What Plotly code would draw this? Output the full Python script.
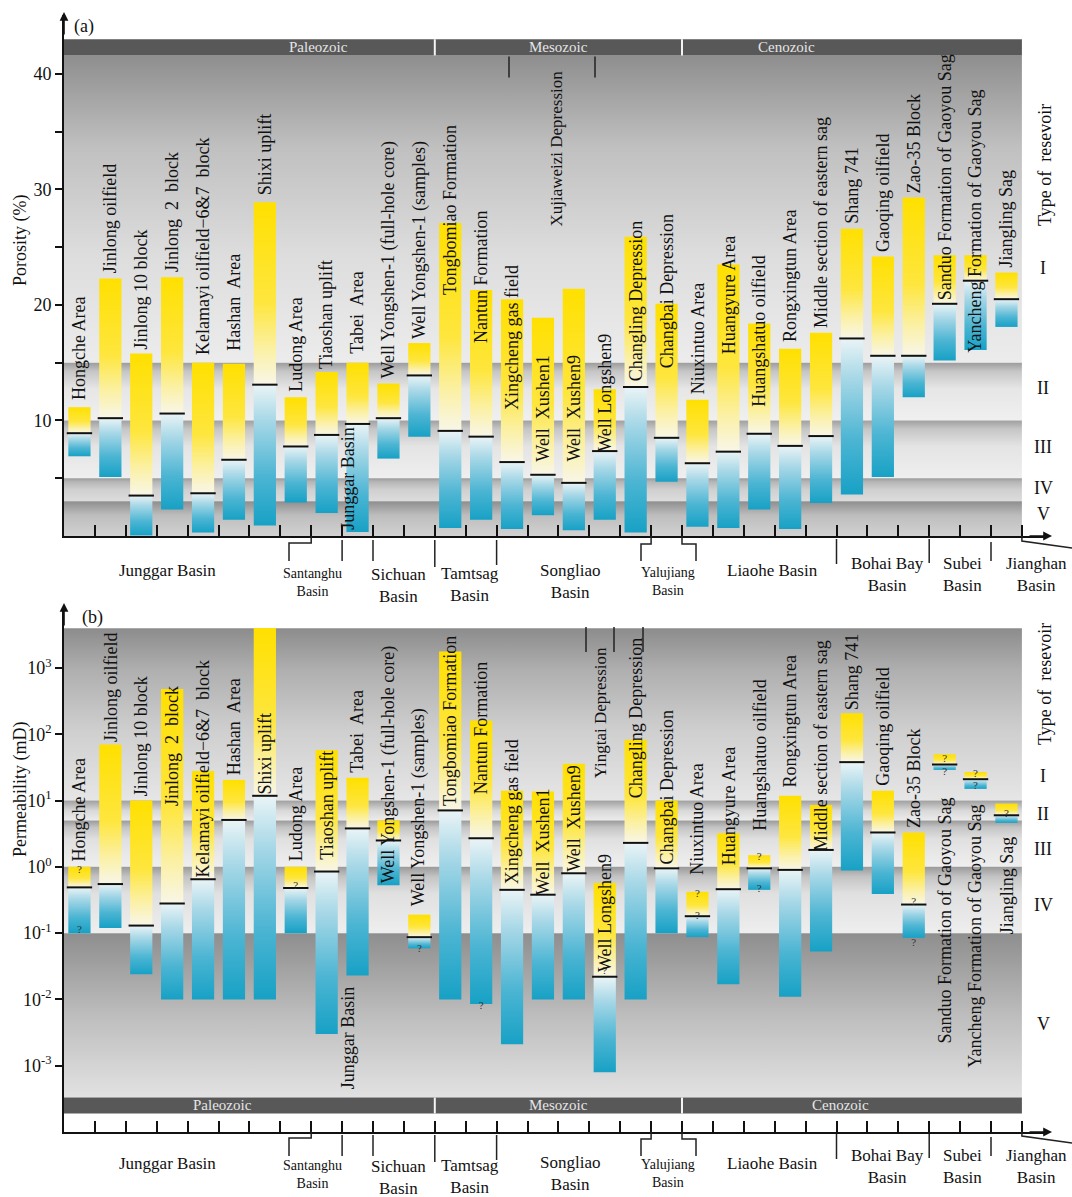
import plotly.graph_objects as go

W, H = 1072, 1197
SERIF = "Liberation Serif, Times New Roman, serif"

# ---------------- data ----------------
sites = ["Hongche Area", "Jinlong oilfield", "Jinlong 10 block", "Jinlong\u00a0 2\u00a0 block",
         "Kelamayi oilfield\u22126&amp;7\u00a0 block", "Hashan\u00a0 Area", "Shixi uplift", "Ludong Area",
         "Tiaoshan uplift", "Tabei\u00a0 Area", "Well Yongshen-1 (full-hole core)",
         "Well Yongshen-1 (samples)", "Tongbomiao Formation", "Nantun Formation",
         "Xingcheng gas field", "Well\u00a0 Xushen1", "Well\u00a0 Xushen9", "Well Longshen9",
         "Changling Depression", "Changbai Depression", "Niuxintuo Area", "Huangyure Area",
         "Huangshatuo oilfield", "Rongxingtun Area", "Middle section of eastern sag", "Shang 741",
         "Gaoqing oilfield", "Zao-35 Block", "Sanduo Formation of Gaoyou Sag",
         "Yancheng Formation of Gaoyou Sag", "Jiangling Sag"]

# porosity (%) : max / mean / min
por_max = [11.15, 22.3, 15.8, 22.4, 15.0, 14.9, 28.9, 12.0, 14.2, 15.0, 13.2, 16.7, 27.1, 21.3, 20.5,
           18.9, 21.4, 12.7, 25.9, 20.1, 11.8, 23.5, 18.4, 16.2, 17.6, 26.6, 24.2, 29.3, 24.3, 24.3, 22.8]
por_mean = [8.9, 10.2, 3.5, 10.6, 3.7, 6.6, 13.1, 7.75, 8.75, 9.7, 10.2, 13.9, 9.1, 8.6, 6.4,
            5.3, 4.6, 7.35, 12.9, 8.5, 6.3, 7.3, 8.85, 7.8, 8.65, 17.1, 15.6, 15.6, 20.1, 22.1, 20.5]
por_min = [6.9, 5.1, 0.05, 2.3, 0.3, 1.4, 0.9, 2.9, 2.0, 0.35, 6.7, 8.6, 0.7, 1.4, 0.6,
           1.8, 0.5, 1.4, 0.3, 4.7, 0.8, 0.7, 2.3, 0.6, 2.85, 3.6, 5.1, 12.0, 15.2, 16.1, 18.1]

# permeability (mD) : max / mean / min
perm_max = [1.0, 70, 10, 480, 28, 20.5, 4000, 1.0, 58, 22, 5.0, 0.19, 1780, 161, 14,
            13.7, 36, 0.57, 83, 10, 0.42, 3.2, 1.5, 11.8, 8.6, 208, 14, 3.3, 50, 27, 9.0]
perm_mean = [0.49, 0.55, 0.13, 0.28, 0.65, 5.1, 11.8, 0.48, 0.85, 3.8, 2.5, 0.087, 7.1, 2.7, 0.45,
             0.38, 0.8, 0.022, 2.3, 0.95, 0.18, 0.46, 0.95, 0.9, 1.8, 38, 3.3, 0.27, 35, 21, 6.0]
perm_min = [0.1, 0.12, 0.024, 0.01, 0.01, 0.01, 0.01, 0.1, 0.003, 0.023, 0.53, 0.059, 0.01, 0.0085, 0.0021,
            0.01, 0.01, 0.0008, 0.01, 0.1, 0.087, 0.017, 0.45, 0.011, 0.053, 0.88, 0.39, 0.085, 29, 15, 4.6]

# where each vertical site label starts (bottom of the text), in axis units
por_label_base = [11.6, 22.6, 16.0, 22.7, 15.5, 15.9, 29.3, 12.3, 14.3, 15.6, 13.5, 16.9, 20.7, 16.5, 10.7,
                  6.3, 6.3, 7.1, 13.2, 14.3, 12.1, 15.6, 11.0, 16.6, 17.8, 26.9, 24.4, 29.5, 20.2, 15.7, 23.1]
perm_label_base_log = [0.05, 1.86, 1.04, 0.89, -0.19, 1.36, 1.06, 0.05, 0.08, 1.39, -0.27, -0.62, 0.89, 1.06,
                       -0.30, -0.45, -0.1, -1.62, 1.0, 0.0, -0.15, 0.0, 0.51, 1.16, 0.2, 2.34, 1.19, 0.56,
                       -2.7, -3.06, -1.04]

# "?" marks of uncertain permeability: (column, log10 k)
perm_query = [(0, -0.05), (0, -0.95), (7, -0.3), (11, -1.24), (13, -2.1), (17, -1.57), (20, -0.41),
              (20, -0.74), (22, 0.15), (22, -0.34), (27, -0.54), (27, -1.15), (28, 1.62), (28, 1.42),
              (29, 1.4), (29, 1.21), (30, 0.8)]

reservoir_types = ["I", "II", "III", "IV", "V"]
por_type_bounds = [41.6, 15, 10, 5, 3, 0]
perm_type_bounds = [10 ** 3.6, 10, 5, 1, 0.1, 10 ** -3.48]
eras = ["Paleozoic", "Mesozoic", "Cenozoic"]
era_edges = [-0.5, 11.5, 19.5, 30.5]
basins = ["Junggar Basin", "Santanghu<br>Basin", "Sichuan<br>Basin", "Tamtsag<br>Basin", "Songliao<br>Basin",
          "Yalujiang<br>Basin", "Liaohe Basin", "Bohai Bay<br>Basin", "Subei<br>Basin", "Jianghan<br>Basin"]
perm_ticks = [1e-3, 1e-2, 1e-1, 1, 10, 100, 1000]
perm_ticktext = ["10<sup>-3</sup>", "10<sup>-2</sup>", "10<sup>-1</sup>", "10<sup>0</sup>",
                 "10<sup>1</sup>", "10<sup>2</sup>", "10<sup>3</sup>"]

# ---------------- geometry helpers ----------------
X0PX, DX = 64.0, 30.9


def xd(xpx):
    return (xpx - X0PX) / DX - 0.5


def pxx(xpx):
    return xpx / W


def pyy(ypx):
    return 1 - ypx / H


N = len(sites)
HW = 0.36
XR = [-0.5, xd(1046)]

UP = [[0, '#f8f6e8'], [0.2, '#fbf0a2'], [0.45, '#fee63e'], [1, '#ffe000']]
DN = [[0, '#17a1c5'], [0.35, '#4cb5d3'], [0.75, '#a8d8e7'], [1, '#eaf4f6']]

fig = go.Figure()


def poly(xa, ya, xs, ys, cs):
    fig.add_trace(go.Scatter(x=xs, y=ys, mode='lines', line=dict(width=0), fill='toself',
                             fillgradient=dict(type='vertical', colorscale=cs),
                             hoverinfo='skip', showlegend=False, xaxis=xa, yaxis=ya))


# background type bands
band_cs_a = [
    [[0, '#ececec'], [0.35, '#dddddd'], [0.7, '#c0c0c0'], [1, '#8e8e8e']],
    [[0, '#f0f0f0'], [0.55, '#e6e6e6'], [0.85, '#c6c6c6'], [1, '#9c9c9c']],
    [[0, '#efefef'], [0.55, '#e4e4e4'], [0.85, '#c6c6c6'], [1, '#a0a0a0']],
    [[0, '#dcdcdc'], [0.5, '#d0d0d0'], [0.85, '#b5b5b5'], [1, '#9a9a9a']],
    [[0, '#d2d2d2'], [0.6, '#bdbdbd'], [1, '#8e8e8e']],
]
band_cs_b = [
    [[0, '#e6e6e6'], [0.4, '#cfcfcf'], [0.75, '#b0b0b0'], [1, '#8c8c8c']],
    [[0, '#ececec'], [0.5, '#d8d8d8'], [1, '#a0a0a0']],
    [[0, '#efefef'], [0.6, '#e0e0e0'], [0.85, '#c4c4c4'], [1, '#9a9a9a']],
    [[0, '#eeeeee'], [0.6, '#e0e0e0'], [0.85, '#c4c4c4'], [1, '#9a9a9a']],
    [[0, '#e2e2e2'], [0.5, '#bdbdbd'], [1, '#8e8e8e']],
]
bx = [-0.5, 30.5, 30.5, -0.5, -0.5]
for k in range(5):
    hi, lo = por_type_bounds[k], por_type_bounds[k + 1]
    poly('x', 'y', bx, [lo, lo, hi, hi, lo], band_cs_a[k])
    hi, lo = perm_type_bounds[k], perm_type_bounds[k + 1]
    poly('x2', 'y2', bx, [lo, lo, hi, hi, lo], band_cs_b[k])

# bars
for i in range(N):
    xs = [i - HW, i + HW, i + HW, i - HW, i - HW]
    poly('x', 'y', xs, [por_mean[i]] * 2 + [por_max[i]] * 2 + [por_mean[i]], UP)
    poly('x', 'y', xs, [por_min[i]] * 2 + [por_mean[i]] * 2 + [por_min[i]], DN)
    poly('x2', 'y2', xs, [perm_mean[i]] * 2 + [perm_max[i]] * 2 + [perm_mean[i]], UP)
    poly('x2', 'y2', xs, [perm_min[i]] * 2 + [perm_mean[i]] * 2 + [perm_min[i]], DN)

# mean lines
mx, my, my2 = [], [], []
for i in range(N):
    mx += [i - 0.41, i + 0.41, None]
    my += [por_mean[i], por_mean[i], None]
    my2 += [perm_mean[i], perm_mean[i], None]
fig.add_trace(go.Scatter(x=mx, y=my, mode='lines', line=dict(color='#111', width=2),
                         hoverinfo='skip', showlegend=False, xaxis='x', yaxis='y'))
fig.add_trace(go.Scatter(x=mx, y=my2, mode='lines', line=dict(color='#111', width=2),
                         hoverinfo='skip', showlegend=False, xaxis='x2', yaxis='y2'))

# question marks
fig.add_trace(go.Scatter(x=[q[0] for q in perm_query], y=[10 ** q[1] for q in perm_query],
                         mode='text', text=['?'] * len(perm_query),
                         textfont=dict(family=SERIF, size=11, color='#333'),
                         hoverinfo='skip', showlegend=False, xaxis='x2', yaxis='y2'))

ann = []
shapes = []
LF = dict(family=SERIF, size=18, color='#111')
LF17 = dict(family=SERIF, size=17, color='#111')


def pann(xp, yp, text, font, angle=0, xanchor='center', yanchor='middle'):
    ann.append(dict(x=pxx(xp), y=pyy(yp), xref='paper', yref='paper', text=text, textangle=angle,
                    showarrow=False, xanchor=xanchor, yanchor=yanchor, font=font, align='center'))


# site labels
for i in range(N):
    ann.append(dict(x=i, y=por_label_base[i], xref='x', yref='y', text=sites[i], textangle=-90,
                    showarrow=False, xanchor='center', yanchor='bottom', font=LF))
    ann.append(dict(x=i, y=perm_label_base_log[i], xref='x2', yref='y2', text=sites[i], textangle=-90,
                    showarrow=False, xanchor='center', yanchor='bottom', font=LF))

# extra vertical group labels
ann.append(dict(x=8.7, y=0.35, xref='x', yref='y', text='Junggar Basin', textangle=-90, showarrow=False,
                xanchor='center', yanchor='bottom', font=LF))
ann.append(dict(x=8.7, y=-3.39, xref='x2', yref='y2', text='Junggar Basin', textangle=-90, showarrow=False,
                xanchor='center', yanchor='bottom', font=LF))
ann.append(dict(x=15.45, y=26.6, xref='x', yref='y', text='Xujiaweizi Depression', textangle=-90,
                showarrow=False, xanchor='center', yanchor='bottom', font=LF17))
ann.append(dict(x=16.85, y=1.3, xref='x2', yref='y2', text='Yingtai Depression', textangle=-90,
                showarrow=False, xanchor='center', yanchor='bottom', font=LF17))
for xv in [xd(509), xd(595)]:
    shapes.append(dict(type='line', xref='x', yref='y', x0=xv, x1=xv, y0=39.7, y1=41.5,
                       line=dict(color='#222', width=1.5)))
for xv in [xd(586), xd(614), xd(643)]:
    shapes.append(dict(type='line', xref='x2', yref='y2', x0=xv, x1=xv, y0=10 ** 3.24, y1=10 ** 3.62,
                       line=dict(color='#222', width=1.5)))

# era bars
ERA_FILL = '#585858'
era_text_px_a = [318, 558, 786]
era_text_px_b = [222, 558, 840]
shapes.append(dict(type='rect', xref='x', yref='y', x0=-0.5, x1=30.5, y0=41.6, y1=43.0,
                   fillcolor=ERA_FILL, line=dict(width=0), layer='above'))
shapes.append(dict(type='rect', xref='x2', yref='y2', x0=-0.5, x1=30.5, y0=10 ** -3.72, y1=10 ** -3.48,
                   fillcolor=ERA_FILL, line=dict(width=0), layer='above'))
for e in era_edges[1:-1]:
    shapes.append(dict(type='line', xref='x', yref='y', x0=e, x1=e, y0=41.6, y1=43.0,
                       line=dict(color='#f4f4f4', width=2)))
    shapes.append(dict(type='line', xref='x2', yref='y2', x0=e, x1=e, y0=10 ** -3.72, y1=10 ** -3.48,
                       line=dict(color='#f4f4f4', width=2)))
EF = dict(family=SERIF, size=15, color='#e6e6e6')
for k, name in enumerate(eras):
    pann(era_text_px_a[k], 47, name, EF)
    pann(era_text_px_b[k], 1105, name, EF)

# basin labels and separators under both axes
basin_px = [(167, 571, 17), (312, 582, 14), (398, 585, 17), (470, 584, 17), (570, 581, 17),
            (668, 581, 14), (772, 571, 17), (887, 574, 17), (962, 574, 17), (1036, 574, 17)]
for axis_px, xr in [(536, 'x'), (1131, 'x2')]:
    off = axis_px - 536 - (3 if xr == 'x2' else 0)
    for (bxp, byp, fs), name in zip(basin_px, basins):
        pann(bxp, byp + off, name, dict(family=SERIF, size=fs, color='#111'))

    def vline(xv, y0p, y1p):
        shapes.append(dict(type='line', xref=xr, yref='paper', x0=xv, x1=xv,
                           y0=pyy(axis_px + y0p), y1=pyy(axis_px + y1p), line=dict(color='#222', width=1.5)))

    def path(pts):
        d = 'M ' + ' L '.join(f'{pxx(px_)},{pyy(axis_px + py_)}' for px_, py_ in pts)
        shapes.append(dict(type='path', xref='paper', yref='paper', path=d,
                           line=dict(color='#222', width=1.5)))

    # Santanghu bracket
    path([(X0PX + DX * 8, 0), (X0PX + DX * 8, 7), (289, 7), (289, 25)])
    vline(8.5, 4, 25)
    vline(9.5, 4, 25)
    vline(11.5, 4, 31)
    vline(13.5, 4, 29)
    # Yalujiang brackets
    path([(X0PX + DX * 19, 0), (X0PX + DX * 19, 8), (641, 8), (641, 25)])
    path([(X0PX + DX * 20, 0), (X0PX + DX * 20, 8), (696, 8), (696, 25)])
    vline(24.5, 3, 28)
    vline(27.5, 3, 27)
    vline(29.5, 6, 25)
    path([(X0PX + DX * 31, 0), (X0PX + DX * 31, 5), (1072, 12)])

# axis arrows
for (xp, yp, axv, ayv) in [(64, 12, 0, 24), (1052, 536, -24, 0), (64, 603, 0, 24), (1052, 1132, -24, 0)]:
    ann.append(dict(x=pxx(xp), y=pyy(yp), xref='paper', yref='paper', text='', showarrow=True,
                    ax=axv, ay=ayv, arrowhead=2, arrowsize=1.1, arrowwidth=1.6, arrowcolor='#111'))

# panel tags and titles
TF = dict(family=SERIF, size=18, color='#111')
pann(72, 27, '(a)', TF, xanchor='left')
pann(80, 617, '(b)', TF, xanchor='left')
pann(20, 240, 'Porosity (%)', TF, angle=-90)
pann(20, 790, 'Permeability (mD)', TF, angle=-90)
for ycen in [165, 684]:
    pann(1045, ycen, 'Type of\u00a0 resevoir', TF, angle=-90)
type_px_a = [268, 388, 447, 488, 514]
type_px_b = [776, 814, 849, 905, 1024]
for k, t in enumerate(reservoir_types):
    pann(1043, type_px_a[k], t, TF)
    pann(1043, type_px_b[k], t, TF)

AX = dict(showline=True, linecolor='#111', linewidth=1.6, showgrid=False, zeroline=False)
fig.update_layout(
    width=W, height=H, autosize=False, margin=dict(l=0, r=0, t=0, b=0),
    paper_bgcolor='white', plot_bgcolor='rgba(0,0,0,0)', showlegend=False,
    xaxis=dict(domain=[pxx(64), pxx(1046)], range=XR, anchor='y', ticks='inside', ticklen=11,
               tickwidth=1.6, tickcolor='#111', tickvals=[i + 0.5 for i in range(N)],
               showticklabels=False, **AX),
    yaxis=dict(domain=[pyy(536), pyy(15)], range=[0, 45.1], anchor='x', ticks='outside', ticklen=7,
               tickwidth=1.6, tickcolor='#111', tickvals=[10, 20, 30, 40],
               tickfont=dict(family=SERIF, size=18, color='#111'),
               minor=dict(tickvals=[5, 15, 25, 35], ticks='outside', ticklen=7, tickwidth=1.6,
                          tickcolor='#111'), **AX),
    xaxis2=dict(domain=[pxx(64), pxx(1046)], range=XR, anchor='y2', ticks='inside', ticklen=11,
                tickwidth=1.6, tickcolor='#111', tickvals=[i + 0.5 for i in range(N)],
                showticklabels=False, **AX),
    yaxis2=dict(domain=[pyy(1132), pyy(607)], type='log', range=[-4, 3.92], anchor='x2', ticks='outside',
                ticklen=7, tickwidth=1.6, tickcolor='#111', tickvals=perm_ticks, ticktext=perm_ticktext,
                tickfont=dict(family=SERIF, size=18, color='#111'), **AX),
    annotations=ann, shapes=shapes,
)

fig.write_html("out.html", config={'displayModeBar': False},
               post_script="document.body.style.margin='0px';")
